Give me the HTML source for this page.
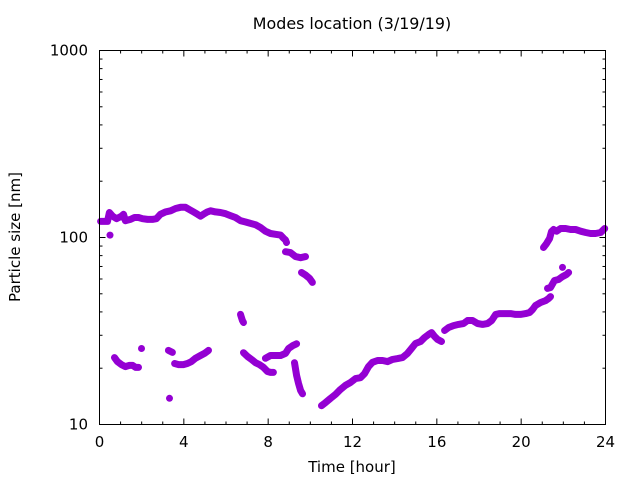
<!DOCTYPE html>
<html><head><meta charset="utf-8"><style>
body{margin:0;background:#fff}
svg text{font-family:"DejaVu Sans","Liberation Sans",sans-serif;fill:#000}
</style></head><body>
<svg id="chart" width="640" height="480" xmlns="http://www.w3.org/2000/svg">
<rect width="640" height="480" fill="#fff"/>
<text x="352" y="29" font-size="15.9" text-anchor="middle">Modes location (3/19/19)</text>
<text x="352" y="472" font-size="15" text-anchor="middle">Time [hour]</text>
<text x="0" y="0" font-size="15" text-anchor="middle" transform="translate(20,237) rotate(-90)">Particle size [nm]</text>
<g id="ticks"></g>
<g id="marks"></g>
<rect x="99.5" y="50.5" width="506" height="374" fill="none" stroke="#000" stroke-width="1"/>
</svg>
<script>
const xTickLabels=["0","4","8","12","16","20","24"];
const xTickValues=[0,4,8,12,16,20,24];
const yTickLabels=["10","100","1000"];
const yTickValues=[10,100,1000];
// segments of the mode series: hours and sizes (nm)
const segHours=[
[0.05,0.24,0.38,0.47,0.62,0.81,1.04,1.14,1.23,1.47,1.66,1.85,2.04,2.28,2.51,2.70,2.89,3.13,3.37,3.61,3.84,4.08,4.27,4.46,4.65,4.79,4.93,5.12,5.27,5.50,5.74,5.98,6.21,6.45,6.69,6.93,7.16,7.40,7.64,7.87,8.11,8.35,8.59,8.73,8.82,8.87],
[0.50],
[8.82,9.06,9.30,9.54,9.77],
[9.58,9.77,9.96,10.10],
[0.71,0.85,1.04,1.23,1.42,1.57,1.71,1.85],
[1.99],
[3.32],
[3.27,3.46],
[3.56,3.75,3.98,4.17,4.36,4.55,4.79,4.98,5.17],
[6.69,6.78,6.83],
[6.83,7.02,7.21,7.40,7.59,7.78,7.97,8.11,8.25],
[7.87,8.11,8.35,8.59,8.82,8.97,9.16,9.35],
[9.25,9.35,9.44,9.54,9.63],
[10.53,10.72,10.96,11.20,11.43,11.67,11.91,12.14,12.38,12.57,12.76,12.95,13.19,13.43,13.66,13.90,14.14,14.37,14.61,14.80,14.99,15.23,15.42,15.61,15.75,15.89,16.03,16.22],
[16.37,16.56,16.79,17.03,17.27,17.46,17.69,17.93,18.17,18.41,18.60,18.79,18.98,19.21,19.50,19.73,19.97,20.21,20.40,20.54,20.68,20.92,21.16,21.30,21.39],
[21.25,21.39,21.58,21.77,21.96,22.15,22.25],
[21.96],
[21.06,21.20,21.35,21.44,21.54,21.68,21.87,22.11,22.34,22.58,22.82,23.06,23.29,23.53,23.77,23.96]
];
const segSizes=[
[122,122,122,136,130,126,130,133,123,125,128,128,126,125,125,126,133,137,139,143,145,145,141,137,133,130,133,137,139,137,136,134,131,128,123,121,119,117,113,108,105,104,103,99,97,94],
[103],
[84,83,79,78,79],
[65,63,60.5,57.5],
[22.8,21.7,20.9,20.4,20.7,20.7,20.2,20.2],
[25.5],
[13.8],
[24.9,24.3],
[21.2,20.9,20.9,21.2,21.7,22.6,23.4,24.0,24.9],
[38.8,36.0,35.1],
[24.2,23.1,22.3,21.4,20.9,20.2,19.2,19.0,19.0],
[22.6,23.4,23.4,23.4,24.0,25.5,26.4,27.0],
[21.4,18.3,16.6,15.2,14.6],
[12.6,13.1,13.8,14.5,15.4,16.2,16.8,17.6,17.8,18.7,20.4,21.5,22.0,22.0,21.7,22.3,22.5,22.8,24.0,25.5,27.1,27.8,29.2,30.3,31.0,29.6,28.5,27.8],
[31.8,33.0,33.8,34.3,34.7,36.0,36.0,34.7,34.3,34.7,36.0,38.8,39.2,39.2,39.2,38.8,38.8,39.2,39.7,41.2,43.3,44.9,46.0,47.2,48.3],
[53.4,54.0,58.9,59.6,61.8,63.4,65.0],
[69.2],
[88.4,92.8,98.8,107.7,110.4,108,111.7,111.7,110.4,110.4,108,106.4,105,105,106.4,111.7]
];
const X0=99.5,X1=605.5,Y0=424.5,Y1=50.5;
const xScale=h=>X0+(h-0)/(24-0)*(X1-X0);
const yScale=v=>Y0-(Math.log10(v)-1)/2*(Y0-Y1);
const NS="http://www.w3.org/2000/svg";
const tg=document.getElementById('ticks');
function line(x1,y1,x2,y2){const l=document.createElementNS(NS,'line');l.setAttribute('x1',x1);l.setAttribute('y1',y1);l.setAttribute('x2',x2);l.setAttribute('y2',y2);l.setAttribute('stroke','#000');l.setAttribute('stroke-width','1');tg.appendChild(l);return l;}
for(let h=0;h<=24;h++){const x=xScale(h);const L=(h%4===0)?6:3;
const a=line(x,Y0,x,Y0-L);


const b=line(x,Y1,x,Y1+L);

}
xTickValues.forEach((v,i)=>{const t=document.createElementNS(NS,'text');t.setAttribute('x',xScale(v));t.setAttribute('y',447);t.setAttribute('font-size','15');t.setAttribute('text-anchor','middle');t.textContent=xTickLabels[i];


tg.appendChild(t);});
for(let d=10;d<1000;d*=10){for(let m=1;m<=9;m++){const v=d*m;const y=yScale(v);const L=(m===1)?6:3;
const a=line(X0,y,X0+L,y);


const b=line(X1,y,X1-L,y);

}}
yTickValues.forEach((v,i)=>{const t=document.createElementNS(NS,'text');t.setAttribute('x',88);t.setAttribute('y',yScale(v)+5);t.setAttribute('font-size','15');t.setAttribute('text-anchor','end');t.textContent=yTickLabels[i];


tg.appendChild(t);});
const mg=document.getElementById('marks');
segHours.forEach((hs,si)=>{
 const pts=hs.map((h,i)=>xScale(h).toFixed(1)+','+yScale(segSizes[si][i]).toFixed(1)).join(' ');
 const p=document.createElementNS(NS,'polyline');
 p.setAttribute('points',hs.length===1?pts+' '+pts:pts);
 p.setAttribute('fill','none');p.setAttribute('stroke','#9400d3');p.setAttribute('stroke-width','7');
 p.setAttribute('stroke-linecap','round');p.setAttribute('stroke-linejoin','round');
 
 
 mg.appendChild(p);
});
</script>
</body></html>
